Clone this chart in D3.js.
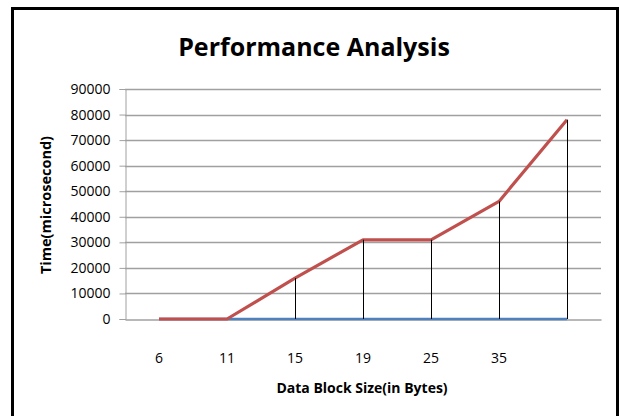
<!DOCTYPE html>
<html>
<head>
<meta charset="utf-8">
<script src="https://cdn.jsdelivr.net/npm/d3@7"></script>
<style>
  body { margin: 0; background: #fff; }
  text { font-family: "Open Sans", sans-serif; }
</style>
</head>
<body>
<svg id="chart"></svg>
<script>
// data
const categories = ["6", "11", "15", "19", "25", "35", ""];
const timeRed = [0, 0, 16000, 31000, 31000, 46000, 78000];
const timeBlue = [0, 0, 0, 0, 0, 0, 0];
const yTicks = [0, 10000, 20000, 30000, 40000, 50000, 60000, 70000, 80000, 90000];

let width = 619, height = 416;
let plotLeft = 125, plotRight = 601, plotTop = 89, plotBottom = 319;

const svg = d3.select("#chart")
  .attr("width", width)
  .attr("height", height);

// outer frame
svg.append("rect")
  .attr("x", 12.5).attr("y", 8.5)
  .attr("width", 605).attr("height", 420)
  .attr("fill", "#fff")
  .attr("stroke", "#000")
  .attr("stroke-width", 3);

let x = d3.scaleBand().domain(d3.range(categories.length)).range([plotLeft, plotRight]);
let y = d3.scaleLinear().domain([0, 90000]).range([plotBottom, plotTop]);
let cx = i => x(i) + x.bandwidth() / 2;

// gridlines
svg.append("g")
  .selectAll("line")
  .data(yTicks.slice(1))
  .enter().append("line")
  .attr("x1", plotLeft).attr("x2", plotRight)
  .attr("y1", d => Math.round(y(d)) + 0.5).attr("y2", d => Math.round(y(d)) + 0.5)
  .attr("stroke", "#a0a0a0")
  .attr("stroke-width", 1.3);

// y axis
const yAxis = svg.append("g")
  .attr("transform", `translate(${plotLeft + 0.5},0)`)
  .call(d3.axisLeft(y).tickValues(yTicks).tickSize(6).tickPadding(9).tickFormat(d3.format("d")));
yAxis.select(".domain").attr("stroke", "#a0a0a0");
yAxis.selectAll(".tick line").attr("stroke", "#a0a0a0");
yAxis.selectAll("text")
  .attr("fill", "#000")
  .style("font-size", "14px")
  .style("font-family", "'Open Sans', sans-serif");

// x axis
const xAxis = svg.append("g")
  .attr("transform", `translate(0,${Math.round(plotBottom) + 0.5})`)
  .call(d3.axisBottom(x).tickSize(0).tickPadding(34).tickFormat(i => categories[i]));
xAxis.select(".domain").attr("stroke", "#a0a0a0").attr("stroke-width", 1.3);
xAxis.selectAll("text")
  .attr("fill", "#000")
  .style("font-size", "14px")
  .style("font-family", "'Open Sans', sans-serif");

// blue series
let line = vals => d3.line().x((d, i) => cx(i)).y(d => y(d))(vals);
svg.append("path")
  .attr("d", line(timeBlue))
  .attr("fill", "none")
  .attr("stroke", "#4f81bd")
  .attr("stroke-width", 2.5);

// red series
svg.append("path")
  .attr("d", line(timeRed))
  .attr("fill", "none")
  .attr("stroke", "#c0504d")
  .attr("stroke-width", 3.2)
  .attr("stroke-linejoin", "round");

// drop lines
svg.append("g")
  .selectAll("line")
  .data(timeRed)
  .enter().append("line")
  .attr("x1", (d, i) => Math.round(cx(i)) + 0.5).attr("x2", (d, i) => Math.round(cx(i)) + 0.5)
  .attr("y1", d => y(d)).attr("y2", y(0))
  .attr("stroke", "#000")
  .attr("stroke-width", 1);

// titles
svg.append("text")
  .attr("x", 314).attr("y", 56)
  .attr("text-anchor", "middle")
  .style("font-size", "25px")
  .style("font-weight", "bold")
  .text("Performance Analysis");

svg.append("text")
  .attr("x", 362).attr("y", 393)
  .attr("text-anchor", "middle")
  .style("font-size", "14px")
  .style("font-weight", "bold")
  .text("Data Block Size(in Bytes)");

svg.append("text")
  .attr("transform", "translate(51,205) rotate(-90)")
  .attr("text-anchor", "middle")
  .style("font-size", "14.5px")
  .style("font-weight", "bold")
  .text("Time(microsecond)");
</script>
</body>
</html>
